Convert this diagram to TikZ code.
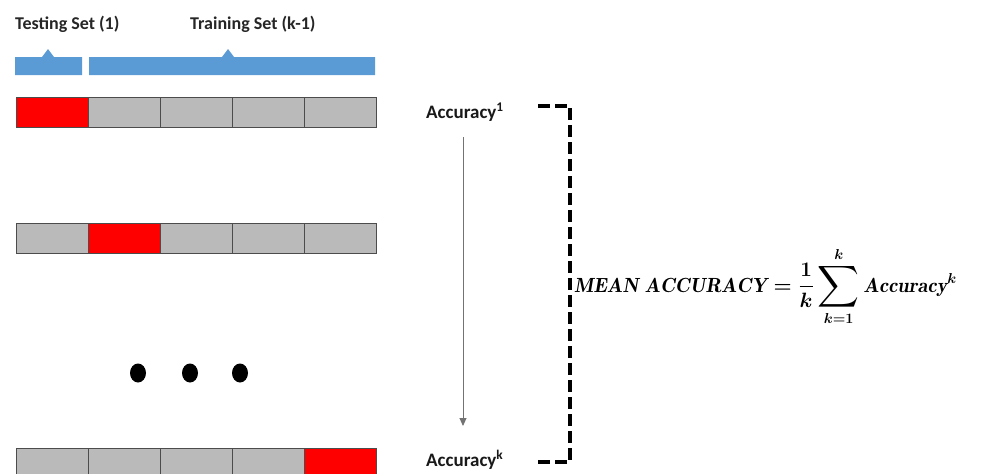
\documentclass[tikz,border=0pt]{standalone}
\usepackage{fontspec}
\usepackage{amsmath}
\usepackage{graphicx}
\usetikzlibrary{arrows.meta,shapes.geometric}
\newfontfamily\carl{Carlito}
\newsavebox\formbox
\begin{document}
\sbox\formbox{\fontsize{20.5}{24}\selectfont\boldmath$\mathit{MEAN\ ACCURACY}=\dfrac{1}{k}\mathop{\vcenter{\hbox{\scalebox{1.4}{$\displaystyle\sum$}}}}\limits_{k=1}^{k}\mathit{Accuracy}^{k}$}%
\begin{tikzpicture}[x=1pt,y=-1pt,
  lbl/.style={font=\carl\bfseries\fontsize{18}{20}\selectfont, text=black!85, inner sep=0pt},
  acclbl/.style={font=\carl\bfseries\fontsize{19}{21}\selectfont, text=black!90, inner sep=0pt},
  cell/.style={draw=black!70, line width=0.8pt, fill=black!27, minimum width=72pt, minimum height=30pt, inner sep=0pt, outer sep=0pt},
  redcell/.style={cell, fill=red},
  dotnode/.style={ellipse, fill=black, minimum width=16pt, minimum height=19pt, inner sep=0pt},
  dashbr/.style={line width=3.5pt, dash pattern=on 12pt off 5pt}
]
\useasboundingbox (0,0) rectangle (983,474);
% labels
\node[lbl, anchor=base west] (test) at (15,29) {Testing Set (1)};
\node[lbl, anchor=base west] (train) at (190,29) {Training Set (k-1)};
% blue brackets
\definecolor{barblue}{RGB}{91,155,213}
\fill[barblue] (15,57) -- (42,57) -- (48,49) -- (54,57) -- (82,57) -- (82,75) -- (15,75) -- cycle;
\fill[barblue] (89,57) -- (222,57) -- (228,49) -- (234,57) -- (375,57) -- (375,75) -- (89,75) -- cycle;
% rows
\node[redcell] (a1) at (52,112) {};
\node[cell] (a2) at (124,112) {};
\node[cell] (a3) at (196,112) {};
\node[cell] (a4) at (268,112) {};
\node[cell] (a5) at (340,112) {};
\node[cell] (b1) at (52,238) {};
\node[redcell] (b2) at (124,238) {};
\node[cell] (b3) at (196,238) {};
\node[cell] (b4) at (268,238) {};
\node[cell] (b5) at (340,238) {};
\node[cell] (c1) at (52,463) {};
\node[cell] (c2) at (124,463) {};
\node[cell] (c3) at (196,463) {};
\node[cell] (c4) at (268,463) {};
\node[redcell] (c5) at (340,463) {};
% dots
\node[dotnode] (d1) at (138,373) {};
\node[dotnode] (d2) at (190,373) {};
\node[dotnode] (d3) at (240,373) {};
% accuracy labels
\node[acclbl, anchor=base west] (acc1) at (426,118) {Accuracy\textsuperscript{1}};
\node[acclbl, anchor=base west] (acck) at (426,466) {Accuracy\textsuperscript{k}};
\draw[black!55, line width=0.9pt, -{Triangle[width=7pt,length=8pt]}] (463,137) -- (463,426);
% dashed bracket
\coordinate (bt) at (538,106);
\coordinate (bb) at (537,462);
\draw[dashbr] (bt) -- (570,106) -- (570,462) -- (bb);
% formula
\node[anchor=base west, inner sep=0pt] (mean) at (574,292) {\usebox\formbox};
\end{tikzpicture}
\end{document}
